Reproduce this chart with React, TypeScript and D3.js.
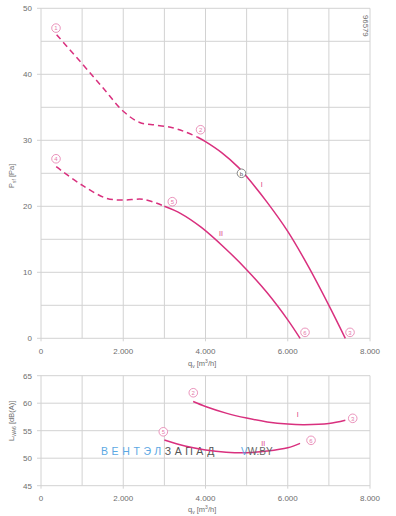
import React from 'react';
import * as d3 from 'd3';

// ---- data ----
const xTicks = [0, 2000, 4000, 6000, 8000];
const xGrid = [0, 1000, 2000, 3000, 4000, 5000, 6000, 7000, 8000];
const pTicks = [0, 10, 20, 30, 40, 50];
const pGrid = [0, 5, 10, 15, 20, 25, 30, 35, 40, 45, 50];
const lTicks = [45, 50, 55, 60, 65];

// pressure curve I
const pIDashQ = [380, 1000, 1500, 2000, 2400, 2800, 3200, 3500, 3800];
const pIDashV = [46, 41.6, 38.0, 34.4, 32.7, 32.3, 31.9, 31.3, 30.5];
const pISolidQ = [3800, 4000, 4400, 4800, 5000, 5500, 6000, 6500, 7000, 7400];
const pISolidV = [30.5, 29.8, 28.1, 25.9, 24.5, 20.6, 16.2, 10.9, 5.0, 0];
// pressure curve II
const pIIDashQ = [370, 500, 1000, 1600, 2000, 2500, 3000];
const pIIDashV = [26, 25.4, 23.2, 21.2, 20.95, 21.05, 20.0];
const pIISolidQ = [3000, 3400, 3900, 4500, 5000, 5500, 6000, 6300];
const pIISolidV = [20.0, 18.9, 16.8, 13.5, 10.4, 6.9, 2.8, 0];
// sound curves
const lIQ = [3700, 4000, 4500, 5000, 5500, 6000, 6400, 7000, 7400];
const lIV = [60.3, 59.4, 58.2, 57.3, 56.6, 56.2, 56.1, 56.3, 56.9];
const lIIQ = [3000, 3500, 4000, 4500, 5000, 5500, 6000, 6300];
const lIIV = [53.3, 52.2, 51.5, 51.1, 51.0, 51.3, 51.9, 52.7];

// point markers (numbers) in data coordinates
const pMarkNames = ['1', '2', '3', '4', '5', '6'];
const pMarkQ = [365, 3880, 7514, 365, 3193, 6420];
const pMarkV = [47.0, 31.6, 0.9, 27.2, 20.7, 0.9];
const lMarkNames = ['2', '3', '5', '6'];
const lMarkQ = [3703, 7580, 2974, 6566];
const lMarkV = [61.9, 57.25, 54.8, 53.25];

const PINK = '#d9307e';
const PINK_L = '#e57aab';
const GRID = '#d2d2d2';
const TXT = '#6e6e6e';
const FONT = 'Liberation Sans, Arial, sans-serif';

const fmt = d3.formatLocale({ decimal: ',', thousands: '.', grouping: [3], currency: ['', ''] }).format(',');

const x = d3.scaleLinear().domain([0, 8000]).range([41, 370]);
const yP = d3.scaleLinear().domain([0, 50]).range([338.3, 8.3]);
const yL = d3.scaleLinear().domain([45, 65]).range([485.7, 375.7]);

function mkLine(ys: d3.ScaleLinear<number, number>, qs: number[], vs: number[]) {
  const pts: [number, number][] = qs.map((q, i) => [x(q), ys(vs[i])]);
  return d3.line().curve(d3.curveCatmullRom.alpha(0.5))(pts) || '';
}

const Mark = ({ cx, cy, t, grey }: { cx: number; cy: number; t: string; grey?: boolean }) => (
  <g>
    <circle cx={cx} cy={cy} r={4.3} fill="white" stroke={grey ? '#666' : PINK_L} strokeWidth={0.8} />
    <text x={cx} y={cy + 2.2} fontSize={6} textAnchor="middle" fill={grey ? '#555' : PINK_L} fontFamily={FONT}>{t}</text>
  </g>
);

function Grid({ ys, grid, ticks, top, bottom }: any) {
  return (
    <g>
      {grid.map((v: number) => (
        <line key={'h' + v} x1={ticks.includes(v) ? 37 : 41} x2={370} y1={ys(v)} y2={ys(v)} stroke={GRID} strokeWidth={1} />
      ))}
      {xGrid.map((q) => (
        <line key={'v' + q} x1={x(q)} x2={x(q)} y1={top} y2={xTicks.includes(q) ? bottom + 3 : bottom} stroke={GRID} strokeWidth={1} />
      ))}
      {ticks.map((v: number) => (
        <text key={'t' + v} x={32} y={ys(v) + 2.8} fontSize={8} textAnchor="end" fill={TXT} fontFamily={FONT}>{v}</text>
      ))}
      {xTicks.map((q) => (
        <text key={'x' + q} x={x(q)} y={bottom + 15.5} fontSize={8} textAnchor="middle" fill={TXT} fontFamily={FONT}>{fmt(q)}</text>
      ))}
    </g>
  );
}

export default function App() {
  const dash = '6,4';
  return (
    <svg width={396} height={516} style={{ position: 'absolute', left: 0, top: 0, background: 'white' }}>
      <rect width={396} height={516} fill="white" />
      {/* top chart */}
      <Grid ys={yP} grid={pGrid} ticks={pTicks} top={yP(50)} bottom={yP(0)} />
      <text x={362.5} y={15} fontSize={7.8} fill={TXT} fontFamily={FONT} transform="rotate(90 362.5 15)">96579</text>
      <path d={mkLine(yP, pIDashQ, pIDashV)} fill="none" stroke={PINK} strokeWidth={1.5} strokeDasharray={dash} />
      <path d={mkLine(yP, pISolidQ, pISolidV)} fill="none" stroke={PINK} strokeWidth={1.5} />
      <path d={mkLine(yP, pIIDashQ, pIIDashV)} fill="none" stroke={PINK} strokeWidth={1.5} strokeDasharray={dash} />
      <path d={mkLine(yP, pIISolidQ, pIISolidV)} fill="none" stroke={PINK} strokeWidth={1.5} />
      {pMarkNames.map((n, i) => (
        <Mark key={'pm' + i} cx={x(pMarkQ[i])} cy={yP(pMarkV[i])} t={n} />
      ))}
      <Mark cx={x(4875)} cy={yP(25.0)} t="b" grey />
      <text x={x(5367)} y={yP(23.3) + 2.5} fontSize={7} fill={PINK} fontFamily={FONT} textAnchor="middle">I</text>
      <text x={x(4377)} y={yP(15.9) + 2.5} fontSize={7} fill={PINK} fontFamily={FONT} textAnchor="middle">II</text>
      <text transform="translate(14 188) rotate(-90)" fontSize={7.5} fill={TXT} fontFamily={FONT}>
        P<tspan fontSize={5} dy={2}>sf</tspan><tspan dy={-2}> [Pa]</tspan>
      </text>
      <text x={188} y={366} fontSize={7.5} fill={TXT} fontFamily={FONT}>
        q<tspan fontSize={5} dy={2}>v</tspan><tspan dy={-2}> [m</tspan><tspan fontSize={5} dy={-3}>3</tspan><tspan dy={3}>/h]</tspan>
      </text>

      {/* bottom chart */}
      <Grid ys={yL} grid={lTicks} ticks={lTicks} top={yL(65)} bottom={yL(45)} />
      <text y={455} fontSize={10.5} fontFamily={FONT} letterSpacing={3.6}>
        <tspan x={101} fill="#5ba8e3">ВЕНТЭЛ</tspan><tspan fill="#555">ЗАПАД</tspan>
      </text>
      <path d={mkLine(yL, lIQ, lIV)} fill="none" stroke={PINK} strokeWidth={1.5} />
      <path d={mkLine(yL, lIIQ, lIIV)} fill="none" stroke={PINK} strokeWidth={1.5} />
      <text y={455} fontSize={10} fontFamily={FONT}>
        <tspan x={241} fill="#5ba8e3">V</tspan><tspan fill="#666">W.BY</tspan>
      </text>
      {lMarkNames.map((n, i) => (
        <Mark key={'lm' + i} cx={x(lMarkQ[i])} cy={yL(lMarkV[i])} t={n} />
      ))}
      <text x={x(6243)} y={yL(58.0) + 2.5} fontSize={7} fill={PINK} fontFamily={FONT} textAnchor="middle">I</text>
      <text x={x(5405)} y={yL(52.7) + 2.5} fontSize={7} fill={PINK} fontFamily={FONT} textAnchor="middle">II</text>
      <text transform="translate(14 441) rotate(-90)" fontSize={7.5} fill={TXT} fontFamily={FONT}>
        L<tspan fontSize={5} dy={2}>WA6</tspan><tspan dy={-2}> [dB(A)]</tspan>
      </text>
      <text x={188} y={512} fontSize={7.5} fill={TXT} fontFamily={FONT}>
        q<tspan fontSize={5} dy={2}>v</tspan><tspan dy={-2}> [m</tspan><tspan fontSize={5} dy={-3}>3</tspan><tspan dy={3}>/h]</tspan>
      </text>
    </svg>
  );
}
